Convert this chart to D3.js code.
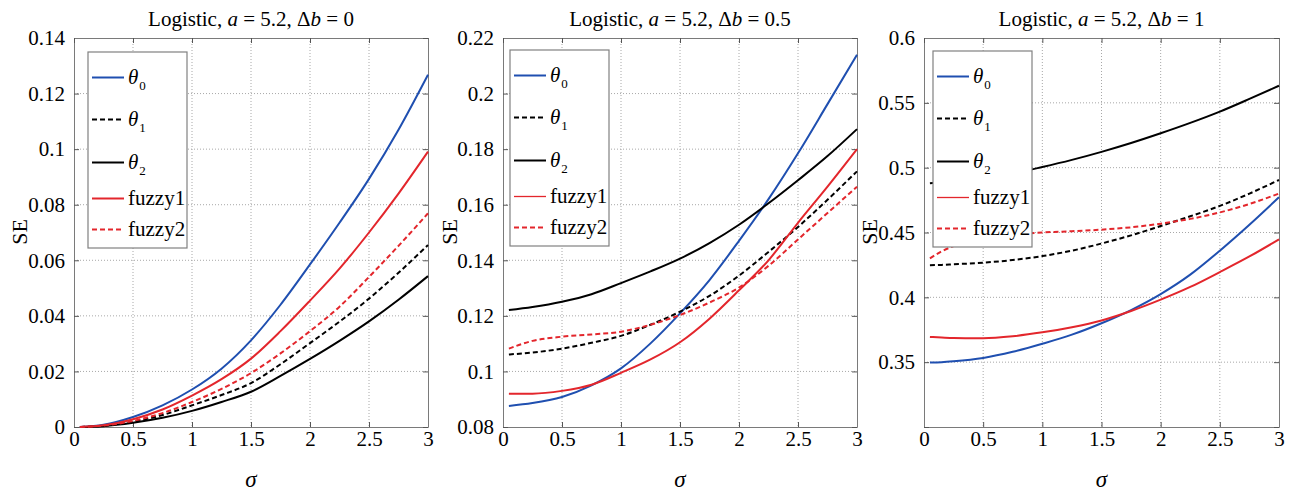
<!DOCTYPE html>
<html>
<head>
<meta charset="utf-8">
<script src="https://cdn.jsdelivr.net/npm/d3@7"></script>
<style>
  body { margin: 0; background: #fff; }
  text { font-family: "Liberation Serif", "Times New Roman", serif; fill: #000; }
  .grid line { stroke: #a8a8a8; stroke-width: 1; stroke-dasharray: 1,2; }
</style>
</head>
<body>
<svg id="chart" width="1297" height="493"></svg>
<script>
// sigma grid
var sigma  = [0.05, 0.25, 0.5, 0.75, 1, 1.25, 1.5, 1.75, 2, 2.25, 2.5, 2.75, 3]
var sigma3 = [0.05, 0.15, 0.25, 0.5, 0.75, 1, 1.25, 1.5, 1.75, 2, 2.25, 2.5, 2.75, 3]

var seriesNames = ["theta0", "theta1", "theta2", "fuzzy1", "fuzzy2"]

// panel 1: a = 5.2, db = 0
var p1Theta0 = [0, 0.0008, 0.0036, 0.0078, 0.0135, 0.0210, 0.0312, 0.0440, 0.0585, 0.0735, 0.0893, 0.1070, 0.1268]
var p1Theta1 = [0, 0.0004, 0.0019, 0.0043, 0.0078, 0.0115, 0.0158, 0.0226, 0.0302, 0.0379, 0.0462, 0.0555, 0.0655]
var p1Theta2 = [0, 0.0003, 0.0015, 0.0033, 0.0058, 0.0090, 0.0127, 0.0184, 0.0245, 0.0310, 0.0380, 0.0458, 0.0543]
var p1Fuzzy1 = [0, 0.0006, 0.0028, 0.0063, 0.0113, 0.0172, 0.0246, 0.0345, 0.0455, 0.0570, 0.0700, 0.0840, 0.0991]
var p1Fuzzy2 = [0, 0.0005, 0.0022, 0.0050, 0.0090, 0.0137, 0.0194, 0.0265, 0.0345, 0.0433, 0.0540, 0.0652, 0.0769]

// panel 2: a = 5.2, db = 0.5
var p2Theta0 = [0.0876, 0.0886, 0.0908, 0.0950, 0.1011, 0.1101, 0.1209, 0.1329, 0.1470, 0.1620, 0.1785, 0.1962, 0.2140]
var p2Theta1 = [0.1061, 0.1068, 0.1082, 0.1103, 0.1128, 0.1168, 0.1215, 0.1272, 0.1345, 0.1430, 0.1520, 0.1618, 0.1720]
var p2Theta2 = [0.1221, 0.1232, 0.1251, 0.1278, 0.1318, 0.1360, 0.1406, 0.1462, 0.1528, 0.1605, 0.1688, 0.1775, 0.1872]
var p2Fuzzy1 = [0.0920, 0.0920, 0.0930, 0.0952, 0.0995, 0.1043, 0.1105, 0.1190, 0.1292, 0.1400, 0.1535, 0.1665, 0.1800]
var p2Fuzzy2 = [0.1082, 0.1110, 0.1125, 0.1133, 0.1143, 0.1168, 0.1203, 0.1248, 0.1302, 0.1380, 0.1475, 0.1570, 0.1665]

// panel 3: a = 5.2, db = 1
var p3Theta0 = [0.3497, 0.3500, 0.3507, 0.3533, 0.3580, 0.3642, 0.3712, 0.3800, 0.3902, 0.4025, 0.4175, 0.4360, 0.4560, 0.4772]
var p3Theta1 = [0.4248, 0.4250, 0.4255, 0.4267, 0.4288, 0.4318, 0.4360, 0.4415, 0.4478, 0.4550, 0.4625, 0.4705, 0.4800, 0.4905]
var p3Theta2 = [0.4880, 0.4887, 0.4895, 0.4920, 0.4955, 0.5005, 0.5060, 0.5122, 0.5190, 0.5265, 0.5345, 0.5432, 0.5530, 0.5632]
var p3Fuzzy1 = [0.3695, 0.3690, 0.3686, 0.3685, 0.3700, 0.3730, 0.3770, 0.3822, 0.3895, 0.3982, 0.4080, 0.4195, 0.4315, 0.4447]
var p3Fuzzy2 = [0.4300, 0.4355, 0.4395, 0.4455, 0.4485, 0.4500, 0.4510, 0.4522, 0.4540, 0.4568, 0.4605, 0.4655, 0.4720, 0.4800]

var deltaB  = ["0", "0.5", "1"]
var xTicks  = [0, 0.5, 1, 1.5, 2, 2.5, 3]
var p1Ticks = [0, 0.02, 0.04, 0.06, 0.08, 0.1, 0.12, 0.14]
var p2Ticks = [0.08, 0.1, 0.12, 0.14, 0.16, 0.18, 0.2, 0.22]
var p3Ticks = [0.3, 0.35, 0.4, 0.45, 0.5, 0.55, 0.6]

// styles
var colors = { theta0: "#1f4fb0", theta1: "#000", theta2: "#000", fuzzy1: "#e3262c", fuzzy2: "#e3262c" }
var dashes = { theta0: null, theta1: "5,3", theta2: null, fuzzy1: null, fuzzy2: "5,3" }

var svg = d3.select("#chart")

var panels = [
  { left: 74,  right: 428,  sigma: sigma,  ys: [p1Theta0, p1Theta1, p1Theta2, p1Fuzzy1, p1Fuzzy2], ticks: p1Ticks, hideTick: null, legX: 88,  legY: 52, thinFuzzy: false, seX: 27 },
  { left: 503, right: 857,  sigma: sigma,  ys: [p2Theta0, p2Theta1, p2Theta2, p2Fuzzy1, p2Fuzzy2], ticks: p2Ticks, hideTick: null, legX: 510, legY: 50, thinFuzzy: true,  seX: 457 },
  { left: 924, right: 1279, sigma: sigma3, ys: [p3Theta0, p3Theta1, p3Theta2, p3Fuzzy1, p3Fuzzy2], ticks: p3Ticks, hideTick: 0.3,  legX: 933, legY: 51, thinFuzzy: true,  seX: 877 }
]
var plotTop = 38, plotBottom = 427

panels.forEach((p, pi) => {
  var ext = d3.extent(p.ticks)
  var x = d3.scaleLinear().domain([0, 3]).range([p.left, p.right])
  var y = d3.scaleLinear().domain(ext).range([plotBottom, plotTop])

  // grid
  var grid = svg.append("g").classed("grid", true)
  grid.selectAll(".vx").data(xTicks.slice(1, -1)).enter().append("line")
    .attr("x1", d => x(d)).attr("x2", d => x(d))
    .attr("y1", plotTop).attr("y2", plotBottom)
  grid.selectAll(".hy").data(p.ticks.slice(1, -1)).enter().append("line")
    .attr("x1", p.left).attr("x2", p.right)
    .attr("y1", d => y(d)).attr("y2", d => y(d))

  // axes with inward ticks
  var fmt = d => (p.hideTick !== null && Math.abs(d - p.hideTick) < 1e-9) ? "" : d3.format("")(+d.toFixed(2))
  var xAxis = svg.append("g")
    .attr("transform", "translate(0," + plotBottom + ")")
    .call(d3.axisBottom(x).tickValues(xTicks).tickSizeInner(-5).tickSizeOuter(0).tickPadding(14).tickFormat(d => d3.format("")(d)))
  var yAxis = svg.append("g")
    .attr("transform", "translate(" + p.left + ",0)")
    .call(d3.axisLeft(y).tickValues(p.ticks).tickSizeInner(-5).tickSizeOuter(0).tickPadding(9).tickFormat(fmt))
  var xTop = svg.append("g")
    .attr("transform", "translate(0," + plotTop + ")")
    .call(d3.axisTop(x).tickValues(xTicks).tickSizeInner(-5).tickSizeOuter(0).tickFormat(""))
  var yRight = svg.append("g")
    .attr("transform", "translate(" + p.right + ",0)")
    .call(d3.axisRight(y).tickValues(p.ticks).tickSizeInner(-5).tickSizeOuter(0).tickFormat(""))

  ;[xAxis, yAxis, xTop, yRight].forEach(a => {
    a.attr("font-family", "Liberation Serif")
    a.select(".domain").attr("stroke", "#7a7a7a")
    a.selectAll(".tick line").attr("stroke", "#555")
    a.selectAll(".tick text").attr("font-size", 21).attr("font-family", "Liberation Serif").attr("fill", "#000")
  })
  xAxis.selectAll(".tick text").attr("dy", "0.71em").attr("y", 4)

  // curves
  var line = d3.line()
    .curve(d3.curveMonotoneX)
    .x((d, i) => x(p.sigma[i]))
    .y(d => y(d))

  seriesNames.forEach((s, si) => {
    svg.append("path")
      .datum(p.ys[si])
      .attr("fill", "none")
      .attr("stroke", colors[s])
      .attr("stroke-width", 2)
      .attr("stroke-dasharray", dashes[s])
      .attr("stroke-linejoin", "round")
      .attr("d", line)
  })

  // title
  var t = svg.append("text")
    .attr("x", (p.left + p.right) / 2)
    .attr("y", 26)
    .attr("text-anchor", "middle")
    .attr("font-size", 21)
  t.append("tspan").text("Logistic, ")
  t.append("tspan").attr("font-style", "italic").text("a")
  t.append("tspan").text(" = 5.2, \u0394")
  t.append("tspan").attr("font-style", "italic").text("b")
  t.append("tspan").text(" = " + deltaB[pi])

  // axis labels
  svg.append("text")
    .attr("transform", "translate(" + p.seX + ",232) rotate(-90)")
    .attr("text-anchor", "middle")
    .attr("font-size", 22)
    .text("SE")
  svg.append("text")
    .attr("x", (p.left + p.right) / 2)
    .attr("y", 487)
    .attr("text-anchor", "middle")
    .attr("font-size", 23)
    .attr("font-style", "italic")
    .text("\u03c3")

  // legend
  var leg = svg.append("g").attr("transform", "translate(" + p.legX + "," + p.legY + ")")
  leg.append("rect")
    .attr("width", 99).attr("height", 196)
    .attr("fill", "#fff").attr("stroke", "#808080").attr("stroke-width", 1.2)
  var rowY = [25, 67, 110, 146, 177]
  seriesNames.forEach((s, si) => {
    leg.append("line")
      .attr("x1", 4).attr("x2", 36)
      .attr("y1", rowY[si] + 0.5).attr("y2", rowY[si] + 0.5)
      .attr("stroke", colors[s])
      .attr("stroke-width", (s == "fuzzy1" && p.thinFuzzy) ? 1.3 : 2)
      .attr("stroke-dasharray", dashes[s])
    var lt = leg.append("text")
      .attr("x", 40)
      .attr("y", rowY[si] + 7)
      .attr("font-size", 21)
    if(s.indexOf("theta") == 0) {
      lt.append("tspan").attr("font-style", "italic").text("\u03b8")
      lt.append("tspan").attr("font-size", 13).attr("dy", 6).attr("dx", 1).text(s.slice(5))
    } else {
      lt.text(s)
    }
  })
})
</script>
</body>
</html>
